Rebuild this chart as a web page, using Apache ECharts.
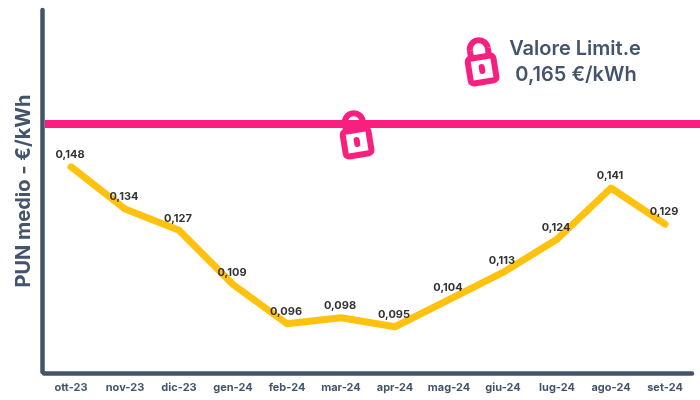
<!DOCTYPE html>
<html>
<head>
<meta charset="utf-8" />
<style>
  html, body { margin: 0; padding: 0; background: #fff; }
  #chart { width: 700px; height: 400px; }
</style>
<script src="https://cdn.jsdelivr.net/npm/echarts@6/dist/echarts.min.js"></script>
</head>
<body>
<div id="chart"></div>
<script>
const months = ["ott-23", "nov-23", "dic-23", "gen-24", "feb-24", "mar-24", "apr-24", "mag-24", "giu-24", "lug-24", "ago-24", "set-24"];
const pun = [0.148, 0.134, 0.127, 0.109, 0.096, 0.098, 0.095, 0.104, 0.113, 0.124, 0.141, 0.129];
// the pink line sits a bit lower in the picture than its stated 0,165
const limitLine = [[0, 0.1622], [1, 0.1622]];
const limitText = ["Valore Limit.e", "0,165 €/kWh"];
const yTitle = "PUN medio - €/kWh";

const dark = "#44546a";
const pink = "#f91f7f";
const yellow = "#ffc20e";
const font = "Inter";

// padlock drawn around the centre of its body
function lock(x, y) {
  const shackle = { fill: null, stroke: pink, lineWidth: 6 };
  return {
    type: "group",
    x: x,
    y: y,
    rotation: 0.16,
    z: 20,
    children: [
      { type: "arc", shape: { cx: 0, cy: -20, r: 9, startAngle: Math.PI, endAngle: 0 }, style: shackle },
      { type: "line", shape: { x1: -9, y1: -20, x2: -9, y2: -12 }, style: shackle },
      { type: "line", shape: { x1: 9, y1: -20, x2: 9, y2: -12 }, style: shackle },
      {
        type: "rect",
        shape: { x: -13, y: -12, width: 26, height: 25, r: 3 },
        style: { fill: "#fff", stroke: pink, lineWidth: 6 },
      },
      {
        type: "rect",
        shape: { x: -3, y: -5, width: 6, height: 10, r: 3 },
        style: { fill: pink },
      },
    ],
  };
}

const chart = echarts.init(document.getElementById("chart"));
chart.setOption({
  animation: false,
  textStyle: { fontFamily: font },
  grid: [
    { left: 44, top: 10, width: 648, height: 362 },
    { left: 45, top: 10, right: 0, height: 362 },
  ],
  xAxis: [
    {
      type: "category",
      data: months,
      offset: 1.5,
      axisTick: { show: false },
      axisLine: { lineStyle: { color: dark, width: 4.5 } },
      axisLabel: { color: dark, fontSize: 11, fontWeight: 700, margin: 9, interval: 0 },
    },
    { type: "value", gridIndex: 1, min: 0, max: 1, show: false },
  ],
  yAxis: [
    {
      type: "value",
      min: 0.08,
      max: 0.2,
      offset: 1.5,
      name: yTitle,
      nameLocation: "middle",
      nameGap: 9,
      nameTextStyle: { color: dark, fontSize: 20, fontWeight: 700 },
      axisLine: { show: true, lineStyle: { color: dark, width: 4.5 } },
      axisTick: { show: false },
      axisLabel: { show: false },
      splitLine: { show: false },
    },
    { type: "value", gridIndex: 1, min: 0.08, max: 0.2, show: false },
  ],
  series: [
    {
      type: "line",
      xAxisIndex: 1,
      yAxisIndex: 1,
      data: limitLine,
      symbol: "none",
      silent: true,
      lineStyle: { color: pink, width: 8 },
    },
    {
      type: "line",
      data: pun,
      // labels need a symbol to hang on, keep it hidden inside the line
      symbol: "circle",
      symbolSize: 3,
      itemStyle: { color: yellow },
      lineStyle: { color: yellow, width: 7, cap: "round", join: "round" },
      label: {
        show: true,
        position: "top",
        distance: 5,
        offset: [-1, 0],
        color: "#333",
        fontSize: 11,
        fontWeight: 700,
        formatter: (p) => p.value.toFixed(3).replace(".", ","),
      },
    },
  ],
  graphic: [
    lock(482, 69),
    lock(357, 142),
    {
      type: "text",
      x: 575,
      y: 49,
      z: 20,
      style: { text: limitText[0], fill: dark, font: "600 20px " + font, textAlign: "center", textVerticalAlign: "middle" },
    },
    {
      type: "text",
      x: 576,
      y: 75,
      z: 20,
      style: { text: limitText[1], fill: dark, font: "600 20px " + font, textAlign: "center", textVerticalAlign: "middle" },
    },
  ],
});
</script>
</body>
</html>
